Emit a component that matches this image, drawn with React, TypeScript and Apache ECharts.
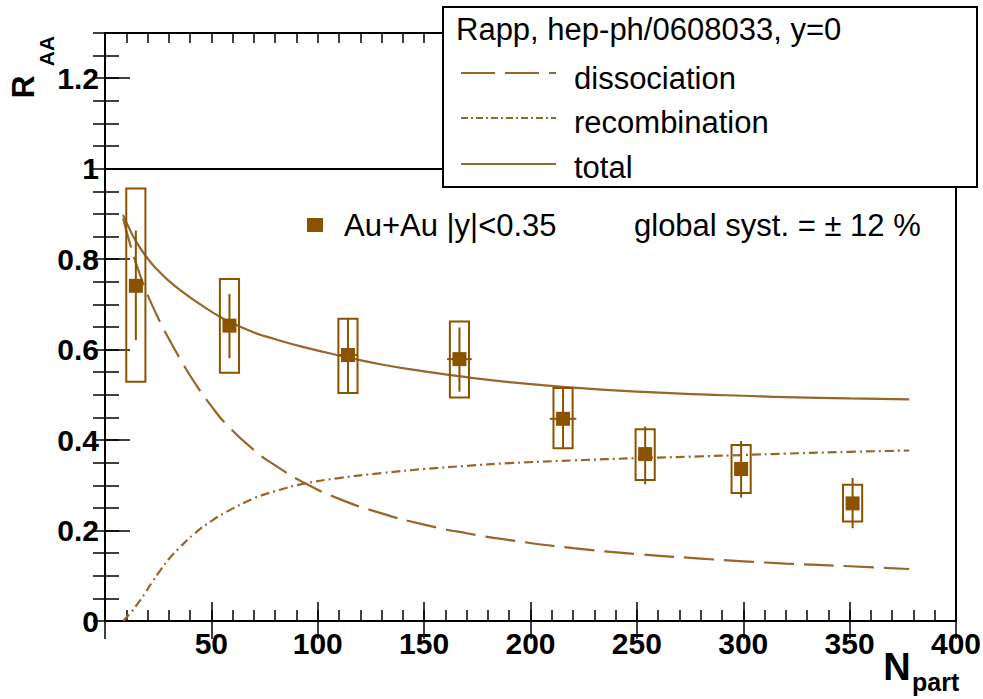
import React, { useEffect, useRef } from "react";
import * as echarts from "echarts";

// ---- measured data (PHENIX Au+Au, |y|<0.35) ----
const npart = [14.5, 58.5, 114.2, 166.6, 215.3, 253.9, 299.0, 351.4];
const raa = [0.741, 0.653, 0.588, 0.579, 0.447, 0.369, 0.336, 0.26];
const statLow = [0.621, 0.581, 0.505, 0.507, 0.383, 0.302, 0.273, 0.205];
const statHigh = [0.863, 0.723, 0.668, 0.649, 0.514, 0.43, 0.398, 0.316];
const sysLow = [0.529, 0.549, 0.504, 0.494, 0.382, 0.312, 0.283, 0.22];
const sysHigh = [0.956, 0.756, 0.668, 0.662, 0.515, 0.424, 0.389, 0.301];
const npartErr = [0, 0, 4.5, 5.8, 6.2, 0, 0, 0];

// ---- Rapp model curves ----
const theoryNpart = [8.5, 12, 15, 19, 22, 26, 30, 35, 42, 50, 57, 70, 80, 93, 110, 130, 150, 170, 190, 220, 250, 280, 300, 320, 350, 378];
const dissociation = [0.89, 0.83, 0.785, 0.733, 0.7, 0.66, 0.624, 0.582, 0.528, 0.475, 0.435, 0.378, 0.344, 0.307, 0.27, 0.238, 0.213, 0.194, 0.179, 0.161, 0.148, 0.138, 0.132, 0.127, 0.121, 0.115];
const recombination = [0.0, 0.018, 0.036, 0.063, 0.085, 0.112, 0.137, 0.162, 0.193, 0.221, 0.241, 0.271, 0.287, 0.303, 0.316, 0.327, 0.336, 0.343, 0.349, 0.355, 0.36, 0.364, 0.367, 0.37, 0.374, 0.377];
const total = [0.898, 0.862, 0.836, 0.808, 0.79, 0.77, 0.752, 0.733, 0.709, 0.684, 0.665, 0.638, 0.623, 0.606, 0.587, 0.567, 0.552, 0.539, 0.528, 0.516, 0.507, 0.501, 0.498, 0.495, 0.492, 0.49];

// ---- texts ----
const legendTitle = "Rapp, hep-ph/0608033, y=0";
const legendNames = ["dissociation", "recombination", "total"];
const dataLabel = "Au+Au |y|<0.35";
const globalSyst = "global syst. = \u00b1 12 %";

const LINE_COLOR = "#98652a";
const MARK_COLOR = "#8b5300";
const FONT = '"Liberation Sans", Arial, Helvetica, sans-serif';
const BOX_HALF = 4.5;

const DISS_DASH = [30, 10];
const RECO_DASH = [9, 4, 2, 4];

export default function App() {
  const ref = useRef<HTMLDivElement>(null);

  useEffect(() => {
    document.body.style.margin = "0";
    if (!ref.current) return;
    const chart = echarts.init(ref.current, undefined, { renderer: "svg" });

    const zip = (ys: number[]) => theoryNpart.map((x, i) => [x, ys[i]]);
    const points = npart.map((x, i) => [x, raa[i], statLow[i], statHigh[i], sysLow[i], sysHigh[i], npartErr[i]]);

    const tickStyle = { color: "#000", width: 1.5 };
    const hiddenLine = { show: false };

    const option: any = {
      animation: false,
      backgroundColor: "#fff",
      grid: {
        left: 105,
        right: 27,
        top: 33,
        bottom: 78,
        show: true,
        borderColor: "#000",
        borderWidth: 2,
        backgroundColor: "transparent",
        containLabel: false,
        outerBoundsMode: "none",
      },
      xAxis: [
        {
          type: "value", min: 0, max: 400, interval: 50, position: "bottom",
          axisLine: { show: true, lineStyle: { color: "#000", width: 2 } },
          axisTick: { show: true, inside: true, length: 19, lineStyle: tickStyle },
          axisLabel: { show: true, showMinLabel: false, margin: 7, color: "#000", fontFamily: FONT, fontWeight: "bold", fontSize: 30 },
          splitLine: { show: false },
        },
        {
          type: "value", min: 0, max: 400, interval: 10, position: "bottom",
          axisLine: hiddenLine,
          axisTick: { show: true, inside: true, length: 11, lineStyle: tickStyle },
          axisLabel: { show: false }, splitLine: { show: false },
        },
        {
          type: "value", min: 0, max: 400, interval: 50, position: "top",
          axisLine: hiddenLine,
          axisTick: { show: true, inside: true, length: 18, lineStyle: tickStyle },
          axisLabel: { show: false }, splitLine: { show: false },
        },
        {
          type: "value", min: 0, max: 400, interval: 10, position: "top",
          axisLine: hiddenLine,
          axisTick: { show: true, inside: true, length: 10, lineStyle: tickStyle },
          axisLabel: { show: false }, splitLine: { show: false },
        },
      ],
      yAxis: [
        {
          type: "value", min: 0, max: 1.3, interval: 0.2, position: "left",
          axisLine: { show: true, lineStyle: { color: "#000", width: 2 } },
          axisTick: { show: true, inside: true, length: 25, lineStyle: tickStyle },
          axisLabel: { show: true, showMaxLabel: false, margin: 6, color: "#000", fontFamily: FONT, fontWeight: "bold", fontSize: 30, padding: [7, 0, 0, 0] },
          splitLine: { show: false },
        },
        {
          type: "value", min: 0, max: 1.3, interval: 0.05, position: "left",
          axisLine: hiddenLine,
          axisTick: { show: true, inside: true, length: 14, lineStyle: tickStyle },
          axisLabel: { show: false }, splitLine: { show: false },
        },
        {
          type: "value", min: 0, max: 1.3, interval: 0.05, position: "right",
          axisLine: hiddenLine,
          axisTick: { show: true, inside: true, length: 12, lineStyle: tickStyle },
          axisLabel: { show: false }, splitLine: { show: false },
        },
      ],
      series: [
        {
          name: legendNames[2], type: "line", xAxisIndex: 0, yAxisIndex: 0,
          data: zip(total), showSymbol: false, smooth: 0.5,
          lineStyle: { color: LINE_COLOR, width: 2.2, type: "solid" },
          markLine: {
            silent: true, symbol: ["none", "none"], label: { show: false },
            lineStyle: { color: "#000", width: 2, type: "solid" },
            data: [{ yAxis: 1 }],
          },
          z: 3,
        },
        {
          name: legendNames[0], type: "line", xAxisIndex: 0, yAxisIndex: 0,
          data: zip(dissociation), showSymbol: false, smooth: 0.5,
          lineStyle: { color: LINE_COLOR, width: 2.2, type: DISS_DASH },
          z: 3,
        },
        {
          name: legendNames[1], type: "line", xAxisIndex: 0, yAxisIndex: 0,
          data: zip(recombination), showSymbol: false, smooth: 0.5,
          lineStyle: { color: LINE_COLOR, width: 2.2, type: RECO_DASH },
          z: 3,
        },
        {
          name: dataLabel, type: "custom", xAxisIndex: 0, yAxisIndex: 0,
          data: points, encode: { x: 0, y: 1 }, z: 4,
          renderItem: (_params: any, api: any) => {
            const x = api.value(0);
            const y = api.value(1);
            const p = api.coord([x, y]);
            const sLo = api.coord([x, api.value(2)]);
            const sHi = api.coord([x, api.value(3)]);
            const bLo = api.coord([x, api.value(4)]);
            const bHi = api.coord([x, api.value(5)]);
            const xe = api.value(6);
            const hw = api.size([BOX_HALF, 0])[0];
            const children: any[] = [
              {
                type: "rect",
                shape: { x: p[0] - hw, y: bHi[1], width: 2 * hw, height: bLo[1] - bHi[1] },
                style: { fill: "none", stroke: MARK_COLOR, lineWidth: 2 },
              },
              {
                type: "line",
                shape: { x1: p[0], y1: sHi[1], x2: p[0], y2: sLo[1] },
                style: { stroke: MARK_COLOR, lineWidth: 2 },
              },
            ];
            if (xe > 0) {
              const pl = api.coord([x - xe, y]);
              const pr = api.coord([x + xe, y]);
              children.push({
                type: "line",
                shape: { x1: pl[0], y1: p[1], x2: pr[0], y2: p[1] },
                style: { stroke: MARK_COLOR, lineWidth: 2 },
              });
            }
            children.push({
              type: "rect",
              shape: { x: p[0] - 7, y: p[1] - 7, width: 14, height: 14 },
              style: { fill: MARK_COLOR },
            });
            return { type: "group", children };
          },
        },
      ],
      graphic: [
        // legend box
        { type: "rect", z: 100, shape: { x: 443, y: 7, width: 534, height: 180 }, style: { fill: "#fff", stroke: "#000", lineWidth: 2 } },
        { type: "text", z: 101, x: 456, y: 29, style: { text: legendTitle, fill: "#000", font: `31px ${FONT}`, align: "left", verticalAlign: "middle" } },
        { type: "line", z: 101, shape: { x1: 461, y1: 73, x2: 556, y2: 73 }, style: { stroke: LINE_COLOR, lineWidth: 2, lineDash: [34, 10] } },
        { type: "text", z: 101, x: 574, y: 78, style: { text: legendNames[0], fill: "#000", font: `31px ${FONT}`, align: "left", verticalAlign: "middle" } },
        { type: "line", z: 101, shape: { x1: 461, y1: 118, x2: 556, y2: 118 }, style: { stroke: LINE_COLOR, lineWidth: 2, lineDash: [7, 3, 2, 3] } },
        { type: "text", z: 101, x: 574, y: 122, style: { text: legendNames[1], fill: "#000", font: `31px ${FONT}`, align: "left", verticalAlign: "middle" } },
        { type: "line", z: 101, shape: { x1: 461, y1: 164, x2: 556, y2: 164 }, style: { stroke: LINE_COLOR, lineWidth: 2 } },
        { type: "text", z: 101, x: 574, y: 167, style: { text: legendNames[2], fill: "#000", font: `31px ${FONT}`, align: "left", verticalAlign: "middle" } },
        // data legend entry and global syst
        { type: "rect", z: 101, shape: { x: 307, y: 218, width: 16, height: 14 }, style: { fill: MARK_COLOR } },
        { type: "text", z: 101, x: 344, y: 225, style: { text: dataLabel, fill: "#000", font: `31px ${FONT}`, align: "left", verticalAlign: "middle" } },
        { type: "text", z: 101, x: 634, y: 225, style: { text: globalSyst, fill: "#000", font: `31px ${FONT}`, align: "left", verticalAlign: "middle" } },
        // axis titles
        { type: "text", z: 101, x: 23, y: 87, rotation: Math.PI / 2, style: { text: "R", fill: "#000", font: `bold 32px ${FONT}`, align: "center", verticalAlign: "middle" } },
        { type: "text", z: 101, x: 46, y: 51, rotation: Math.PI / 2, style: { text: "AA", fill: "#000", font: `bold 21px ${FONT}`, align: "center", verticalAlign: "middle" } },
        { type: "text", z: 101, x: 897, y: 667, style: { text: "N", fill: "#000", font: `bold 38px ${FONT}`, align: "center", verticalAlign: "middle" } },
        { type: "text", z: 101, x: 912, y: 682, style: { text: "part", fill: "#000", font: `bold 25px ${FONT}`, align: "left", verticalAlign: "middle" } },
      ],
    };

    chart.setOption(option);
    return () => {
      chart.dispose();
    };
  }, []);

  return <div ref={ref} style={{ width: 983, height: 699 }} />;
}
